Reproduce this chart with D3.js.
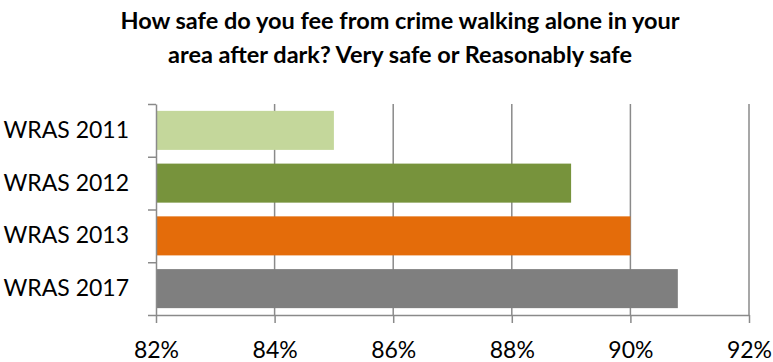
<!DOCTYPE html>
<html>
<head>
<meta charset="utf-8">
<script src="https://cdn.jsdelivr.net/npm/d3@7/dist/d3.min.js"></script>
<style>
  html, body { margin: 0; padding: 0; background: #fff; }
  svg { display: block; }
  text { font-family: Lato, "Open Sans", sans-serif; fill: #000; }
</style>
</head>
<body>
<script>
// Survey responses: share who feel very or reasonably safe
const categories = ["WRAS 2011", "WRAS 2012", "WRAS 2013", "WRAS 2017"];
const values = [85.0, 89.0, 90.0, 90.8];
const barColors = ["#c4d79b", "#77933c", "#e46c0a", "#7f7f7f"];
const xTicks = [82, 84, 86, 88, 90, 92];
const titleLines = [
  "How safe do you fee from crime walking alone in your",
  "area after dark? Very safe or Reasonably safe"
];

const W = 773, H = 362;
const plot = { left: 156, right: 749, top: 104, bottom: 315 };
const gridColor = "#8a8a8a";

const svg = d3.select("body").append("svg")
  .attr("width", W).attr("height", H);

const x = d3.scaleLinear().domain([82, 92]).range([plot.left, plot.right]);
const y = d3.scaleBand().domain(categories)
  .range([plot.top, plot.bottom])
  .paddingInner(0.26).paddingOuter(0.13);

// Title
svg.append("g").selectAll("text").data(titleLines).join("text")
  .attr("x", 400).attr("y", (d, i) => 29 + i * 34)
  .attr("text-anchor", "middle")
  .style("font-weight", "bold").style("font-size", "23.5px")
  .text(d => d);

// Vertical gridlines
svg.append("g").selectAll("line").data(xTicks.slice(1)).join("line")
  .attr("x1", d => x(d)).attr("x2", d => x(d))
  .attr("y1", plot.top).attr("y2", plot.bottom)
  .attr("stroke", gridColor).attr("stroke-width", 1.5);

// Bars
svg.append("g").selectAll("rect").data(categories).join("rect")
  .attr("x", x(82))
  .attr("y", d => y(d))
  .attr("width", (d, i) => x(values[i]) - x(82))
  .attr("height", y.bandwidth())
  .attr("fill", (d, i) => barColors[i]);

// X axis
const xAxis = svg.append("g")
  .attr("transform", `translate(0,${plot.bottom})`)
  .call(d3.axisBottom(x).tickValues(xTicks).tickSize(8).tickSizeOuter(0)
    .tickFormat(d => d + "%"));
xAxis.selectAll("path.domain").attr("stroke", gridColor).attr("stroke-width", 1.5);
xAxis.selectAll(".tick line").attr("stroke", gridColor).attr("stroke-width", 1.5);
xAxis.selectAll(".tick text").attr("dy", null).attr("y", 43)
  .style("font-size", "23px").style("font-family", "Lato, sans-serif").attr("fill", "#000");

// Y axis: tick marks between categories
const yEdges = d3.scaleLinear().domain([0, categories.length]).range([plot.top, plot.bottom]);
const yAxis = svg.append("g")
  .attr("transform", `translate(${plot.left},0)`)
  .call(d3.axisLeft(yEdges).tickValues(d3.range(categories.length + 1))
    .tickSize(8).tickSizeOuter(0).tickFormat(""));
yAxis.selectAll("path.domain").attr("stroke", gridColor).attr("stroke-width", 1.5);
yAxis.selectAll(".tick line").attr("stroke", gridColor).attr("stroke-width", 1.5);

// Category labels
const yLabels = svg.append("g")
  .attr("transform", `translate(${plot.left},0)`)
  .call(d3.axisLeft(y).tickSize(0).tickPadding(27));
yLabels.select("path.domain").remove();
yLabels.selectAll(".tick text")
  .style("font-size", "23px").style("font-family", "Lato, sans-serif").attr("fill", "#000");
</script>
</body>
</html>
